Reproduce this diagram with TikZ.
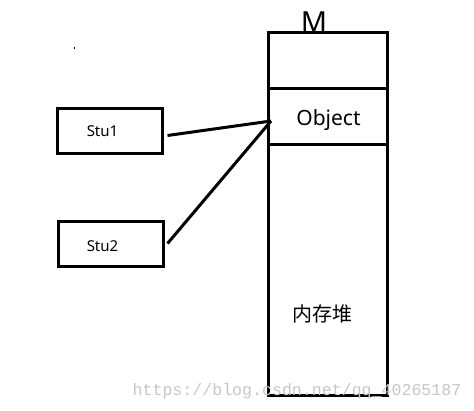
\documentclass[tikz,border=0pt]{standalone}
\usepackage{fontspec}
\setmainfont{Noto Sans}
\newfontfamily\cjk{Noto Sans CJK SC}
\newfontfamily\wmfont{Liberation Mono}
\begin{document}
\begin{tikzpicture}[x=1pt,y=-1pt,
  thick line/.style={line width=3pt},
  stubox/.style={draw,line width=3pt,minimum width=105pt,minimum height=45pt,inner sep=0pt},
  stulabel/.style={font=\fontsize{15}{17}\selectfont,inner sep=0pt},
  memcell/.style={draw,line width=3pt,minimum width=119pt,inner sep=0pt}]
\useasboundingbox (0,0) rectangle (474,411);
\fill[white] (0,0) rectangle (474,411);
% memory column
\node[memcell,minimum height=56pt] (top) at (328,61) {};
\node[memcell,minimum height=56pt] (obj) at (328,117) {};
\node[font=\fontsize{21}{24}\selectfont,inner sep=0pt] (objlabel) at (328.5,120.5) {Object};
\node[memcell,minimum height=251pt] (heap) at (328,270.5) {};
\node[font=\cjk\fontsize{20}{23}\selectfont] (heaplabel) at (322,314) {内存堆};
\node[font=\fontsize{29}{32}\selectfont,inner sep=0pt,anchor=south] (M) at (314,33) {M};
% students
\node[stubox] (s1) at (109.5,131.5) {};
\node[stulabel] (s1l) at (102.5,131.5) {Stu1};
\node[stubox] (s2) at (110.5,244.5) {};
\node[stulabel] (s2l) at (102.5,246.5) {Stu2};
\coordinate (p) at (271,121);
\draw[thick line] (s1.east) ++(4pt,-4pt) coordinate (s1e) -- (p);
\draw[thick line] (s2.east) ++(3pt,1pt) coordinate (s2e) -- (p);
% small dot
\fill (73.5,47.5) rectangle (75,49);
% watermark
\node[font=\wmfont\fontsize{16.6}{18}\selectfont,text=black!22,inner sep=0pt] (wm) at (297,391) {https://blog.csdn.net/qq\_40265187};
\end{tikzpicture}
\end{document}
